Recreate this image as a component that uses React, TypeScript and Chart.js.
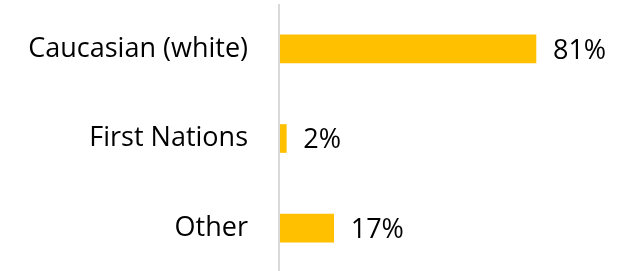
import React, { useEffect, useRef } from "react";
import { Chart, registerables } from "chart.js";

Chart.register(...registerables);

const categories = ["Caucasian (white)", "First Nations", "Other"];
const values = [81, 2, 17];
const valueLabels = ["81%", "2%", "17%"];

const FONT = "'Open Sans', sans-serif";
const FONT_SIZE = 27;

export default function App() {
  const ref = useRef<HTMLCanvasElement | null>(null);

  useEffect(() => {
    if (!ref.current) return;
    const axisLine = {
      id: "axisLine",
      beforeDatasetsDraw(chart: any) {
        const { ctx, chartArea } = chart;
        ctx.save();
        ctx.fillStyle = "#D9D9D9";
        ctx.fillRect(chartArea.left - 2, chartArea.top, 2, chartArea.bottom - chartArea.top);
        ctx.restore();
      },
    };
    const labelsPlugin = {
      id: "labelsPlugin",
      afterDatasetsDraw(chart: any) {
        const { ctx, chartArea } = chart;
        const meta = chart.getDatasetMeta(0);
        ctx.save();
        ctx.font = `${FONT_SIZE}px ${FONT}`;
        ctx.fillStyle = "#000000";
        ctx.textBaseline = "middle";
        meta.data.forEach((bar: any, i: number) => {
          ctx.textAlign = "left";
          ctx.fillText(valueLabels[i], bar.x + 17, bar.y + 2);
          ctx.textAlign = "right";
          ctx.fillText(String(chart.data.labels[i]), chartArea.left - 32, bar.y);
        });
        ctx.restore();
      },
    };
    const chart = new Chart(ref.current, {
      type: "bar",
      data: {
        labels: categories,
        datasets: [
          {
            data: values,
            backgroundColor: "#FFC000",
            borderWidth: 0,
            barThickness: 28,
          },
        ],
      },
      options: {
        indexAxis: "y",
        animation: false,
        responsive: false,
        maintainAspectRatio: false,
        layout: { padding: { top: 4, right: 29, bottom: 0, left: 0 } },
        plugins: {
          legend: { display: false },
          tooltip: { enabled: false },
        },
        scales: {
          x: {
            display: false,
            min: 0,
            max: 100,
          },
          y: {
            grid: { display: false, drawTicks: false },
            border: { display: false },
            ticks: { display: false, padding: 0 },
            afterFit(scale: any) {
              scale.width = 280;
            },
          },
        },
      },
      plugins: [axisLine, labelsPlugin],
    });
    return () => chart.destroy();
  }, []);

  return (
    <div style={{ position: "absolute", left: 0, top: 0, width: 625, height: 271, overflow: "hidden", background: "#fff" }}>
      <canvas ref={ref} width={625} height={273} style={{ display: "block" }} />
    </div>
  );
}
